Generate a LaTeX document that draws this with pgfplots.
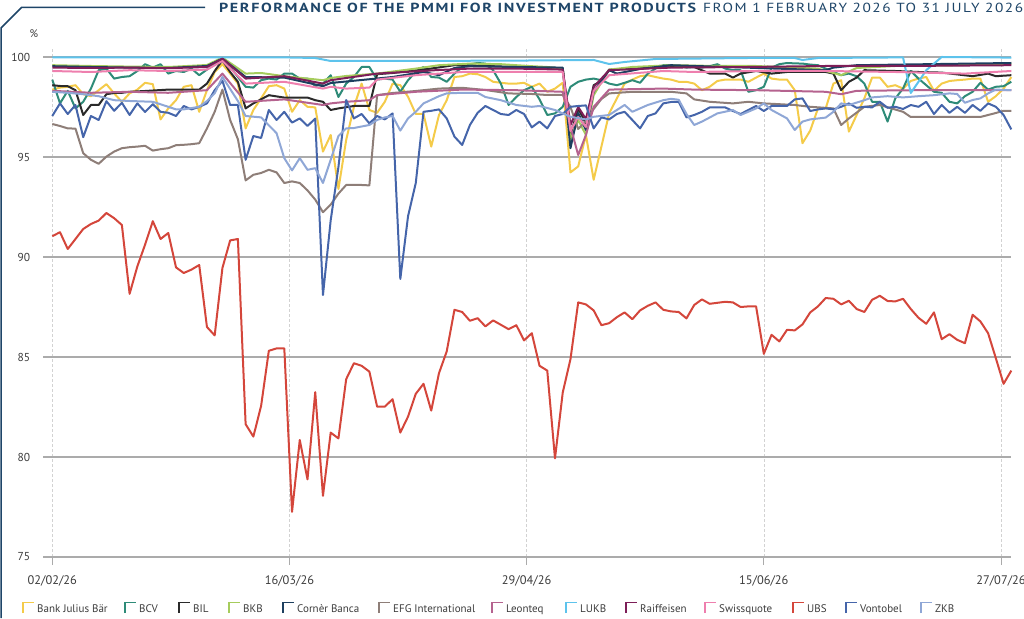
\documentclass[border=0pt]{standalone}
\usepackage{fontspec}
\setmainfont{PT Sans}
\usepackage{pgfplots}
\pgfplotsset{compat=1.18}
\definecolor{cJB}{HTML}{F4CB4A}
\definecolor{cBCV}{HTML}{2E8B78}
\definecolor{cBIL}{HTML}{2A2A2A}
\definecolor{cBKB}{HTML}{A6CC5C}
\definecolor{cCB}{HTML}{1D3F5F}
\definecolor{cEFG}{HTML}{8E7E78}
\definecolor{cLEO}{HTML}{B5638F}
\definecolor{cLUKB}{HTML}{5DC3EC}
\definecolor{cRAI}{HTML}{7D1E58}
\definecolor{cSQ}{HTML}{EE7FAE}
\definecolor{cUBS}{HTML}{D4463B}
\definecolor{cVON}{HTML}{4565AA}
\definecolor{cZKB}{HTML}{8FA7D6}
\definecolor{navy}{HTML}{1E4568}
\definecolor{txt}{HTML}{3C3C3C}
\definecolor{grid}{HTML}{ABABAB}
\begin{document}
\begin{tikzpicture}[x=1pt,y=1pt]
\path[use as bounding box] (0pt,0pt) rectangle (1024pt,618pt);
\draw[navy, line width=1.5pt] (205pt,610.7pt) -- (21.7pt,610.7pt) -- (1pt,590pt) -- (1pt,0pt);
\node[anchor=base west, inner sep=0pt, text=navy] at (219pt,605.3pt) {\resizebox{477pt}{9.4pt}{\bfseries\addfontfeatures{LetterSpace=10}PERFORMANCE OF THE PMMI FOR INVESTMENT PRODUCTS}};
\node[anchor=base west, inner sep=0pt, text=navy] at (703pt,605.3pt) {\resizebox{320pt}{9.4pt}{\addfontfeatures{LetterSpace=10}FROM 1 FEBRUARY 2026 TO 31 JULY 2026}};
\node[text=txt, inner sep=0pt, font=\fontsize{11}{12}\selectfont] at (34pt,584.5pt) {\%};
\begin{axis}[
  at={(43.3pt,61pt)}, anchor=south west,
  scale only axis, width=968pt, height=509pt,
  xmin=-1.16, xmax=124, ymin=75, ymax=100.45,
  clip=false,
  axis line style={draw=none},
  ytick={75,80,85,90,95,100},
  ymajorgrids, y grid style={grid, line width=1.1pt},
  xtick={0,30.667,61.333,92,122.667},
  xticklabels={02/02/26,16/03/26,29/04/26,15/06/26,27/07/26},
  xmajorgrids, x grid style={densely dashed, gray!35, line width=0.6pt},
  xtick pos=bottom, ytick pos=left,
  tick align=outside, major tick length=8pt,
  xtick style={grid, line width=1pt},
  ytick style={draw=none},
  /pgf/number format/assume math mode=true,
  yticklabel style={font=\fontsize{11.5}{12}\selectfont, text=txt, anchor=east, inner sep=0pt, xshift=-5pt},
  xticklabel style={font=\fontsize{12.4}{13}\selectfont, text=txt, anchor=north, inner sep=0pt, yshift=-10pt},
  every axis plot/.append style={line width=2pt, line join=round, mark=none},
]
\addplot[cJB] coordinates {(0,98.37)(1,98.47)(2,98.51)(3,98.59)(4,98.14)(5,98.04)(6,98.34)(7,98.64)(8,98.18)(9,97.76)(10,98.18)(11,98.37)(12,98.71)(13,98.64)(14,96.88)(15,97.43)(16,97.84)(17,98.51)(18,98.59)(19,97.26)(20,98.34)(21,99.25)(22,99.64)(23,99.17)(24,98.67)(25,96.43)(26,97.35)(27,97.93)(28,98.54)(29,98.59)(30,98.42)(31,97.26)(32,97.84)(33,97.51)(34,97.48)(35,95.27)(36,96.1)(37,93.4)(38,95.85)(39,97.5)(40,98.67)(41,97.35)(42,97.21)(43,97.76)(44,98.67)(45,98.59)(46,98.01)(47,97.15)(48,97.15)(49,95.52)(50,97.1)(51,97.84)(52,99.0)(53,99.04)(54,99.17)(55,99.14)(56,99.0)(57,98.76)(58,98.71)(59,98.67)(60,98.67)(61,98.71)(62,98.51)(63,98.67)(64,98.26)(65,98.42)(66,98.71)(67,94.23)(68,94.53)(69,96.1)(70,93.86)(71,95.52)(72,97.18)(73,97.93)(74,98.67)(75,98.87)(76,99.04)(77,99.09)(78,99.0)(79,98.92)(80,98.87)(81,98.76)(82,98.76)(83,98.67)(84,98.34)(85,98.51)(86,98.8)(87,98.87)(88,98.87)(89,98.87)(90,98.76)(91,98.97)(92,99.17)(93,98.92)(94,98.87)(95,98.87)(96,98.34)(97,95.69)(98,96.32)(99,97.43)(100,97.43)(101,98.67)(102,98.84)(103,96.27)(104,97.1)(105,97.93)(106,98.97)(107,98.97)(108,98.51)(109,98.59)(110,98.42)(111,98.8)(112,98.92)(113,99.0)(114,98.31)(115,98.67)(116,98.8)(117,98.84)(118,98.87)(119,98.92)(120,98.92)(121,97.76)(122,98.04)(123,98.42)(124,99.0)};
\addplot[cBCV] coordinates {(0,98.87)(1,97.68)(2,98.31)(3,97.43)(4,97.76)(5,98.42)(6,99.34)(7,99.42)(8,98.92)(9,99.0)(10,99.04)(11,99.3)(12,99.64)(13,99.47)(14,99.64)(15,99.17)(16,99.3)(17,99.25)(18,99.42)(19,99.09)(20,99.37)(21,99.64)(22,99.87)(23,99.5)(24,99.0)(25,98.51)(26,98.47)(27,98.84)(28,98.92)(29,98.87)(30,99.17)(31,99.17)(32,98.92)(33,98.92)(34,98.54)(35,98.67)(36,99.09)(37,98.0)(38,98.67)(39,99.0)(40,99.5)(41,99.5)(42,98.87)(43,98.92)(44,98.87)(45,98.26)(46,98.84)(47,99.25)(48,99.5)(49,99.0)(50,98.97)(51,98.76)(52,99.17)(53,99.5)(54,99.64)(55,99.7)(56,99.67)(57,99.34)(58,98.67)(59,97.6)(60,98.0)(61,98.34)(62,98.51)(63,97.88)(64,97.1)(65,97.18)(66,97.51)(67,98.51)(68,98.76)(69,98.87)(70,98.92)(71,98.84)(72,98.67)(73,98.59)(74,98.71)(75,98.84)(76,98.71)(77,99.17)(78,99.42)(79,99.59)(80,99.59)(81,99.55)(82,99.47)(83,99.5)(84,99.47)(85,99.54)(86,99.64)(87,99.42)(88,99.34)(89,99.34)(90,98.26)(91,98.34)(92,98.51)(93,99.47)(94,99.64)(95,99.7)(96,99.68)(97,99.67)(98,99.62)(99,99.59)(100,99.42)(101,99.25)(102,99.09)(103,99.17)(104,99.04)(105,98.67)(106,97.76)(107,97.76)(108,96.77)(109,97.93)(110,98.42)(111,99.3)(112,98.92)(113,98.59)(114,98.26)(115,98.21)(116,97.76)(117,97.68)(118,98.04)(119,98.26)(120,98.71)(121,98.37)(122,98.51)(123,98.54)(124,98.76)};
\addplot[cBIL] coordinates {(0,98.59)(1,98.55)(2,98.54)(3,98.34)(4,97.1)(5,97.6)(6,97.6)(7,98.14)(8,98.2)(9,98.21)(10,98.26)(12,98.3)(15,98.37)(19,98.37)(20,98.67)(21,99.3)(22,99.84)(23,99.25)(24,98.76)(25,97.43)(26,97.68)(28,98.09)(30,97.97)(33,97.97)(34,97.84)(35,97.76)(36,97.35)(37,97.43)(39,97.55)(41,97.55)(42,99.14)(44,99.2)(48,99.37)(52,99.59)(57,99.54)(62,99.47)(66,99.42)(67,96.1)(68,97.43)(69,96.68)(70,98.59)(71,98.8)(72,99.37)(75,99.42)(80,99.5)(83,99.5)(85,99.17)(87,99.17)(88,98.97)(89,99.17)(91,99.3)(93,99.17)(95,99.25)(100,99.25)(101,99.17)(102,98.34)(103,98.76)(104,98.97)(105,99.34)(109,99.3)(112,99.25)(115,99.22)(119,99.04)(121,99.17)(122,99.04)(124,99.09)};
\addplot[cBKB] coordinates {(0,99.59)(5,99.55)(10,99.52)(15,99.5)(20,99.6)(22,99.97)(25,99.17)(27,99.2)(30,99.04)(35,98.84)(36,98.95)(38,99.05)(42,99.17)(47,99.42)(50,99.59)(54,99.67)(58,99.64)(62,99.54)(64,99.5)(66,99.42)(67,95.85)(68,96.85)(69,96.1)(70,98.09)(72,99.37)(75,99.5)(80,99.59)(86,99.55)(91,99.55)(99,99.42)(101,99.2)(102,99.09)(104,99.45)(109,99.55)(117,99.59)(124,99.67)};
\addplot[cCB] coordinates {(0,99.54)(5,99.5)(10,99.47)(15,99.45)(20,99.55)(22,99.92)(25,99.0)(30,98.97)(35,98.54)(36,98.7)(40,98.85)(44,99.0)(48,99.25)(50,99.09)(52,99.45)(54,99.54)(60,99.5)(66,99.47)(67,95.44)(68,97.2)(69,96.35)(70,98.26)(72,99.34)(73,99.17)(76,99.4)(80,99.59)(100,99.34)(101,99.47)(104,99.59)(124,99.7)};
\addplot[cEFG] coordinates {(0,96.65)(1,96.55)(2,96.43)(3,96.42)(4,95.19)(5,94.86)(6,94.66)(7,95.02)(8,95.27)(9,95.44)(10,95.49)(11,95.52)(12,95.56)(13,95.32)(14,95.39)(15,95.44)(16,95.59)(17,95.61)(18,95.64)(19,95.69)(20,96.43)(21,97.26)(22,98.37)(23,96.85)(24,95.89)(25,93.83)(26,94.11)(27,94.2)(28,94.36)(29,94.23)(30,93.7)(31,93.78)(32,93.7)(33,93.33)(34,92.87)(35,92.24)(36,92.62)(37,93.17)(38,93.6)(39,93.6)(40,93.6)(41,93.58)(42,98.09)(44,98.2)(47,98.3)(50,98.42)(53,98.46)(56,98.35)(59,98.18)(62,98.15)(64,98.1)(66,98.1)(67,97.5)(68,96.4)(69,96.8)(70,97.4)(71,97.9)(72,98.18)(75,98.26)(80,98.26)(82,98.18)(83,97.88)(85,97.76)(88,97.68)(90,97.76)(92,97.68)(96,97.6)(98,97.51)(101,97.43)(102,96.6)(103,96.93)(105,97.51)(107,97.6)(110,97.26)(111,97.0)(115,97.0)(120,97.0)(122,97.2)(123,97.31)(124,97.31)};
\addplot[cLEO] coordinates {(0,98.31)(5,98.21)(10,98.26)(15,98.21)(20,98.34)(22,99.17)(25,97.76)(30,97.88)(35,97.6)(36,97.68)(38,97.76)(41,97.84)(42,98.09)(47,98.26)(53,98.37)(60,98.34)(66,98.26)(67,96.52)(68,95.1)(69,96.1)(70,97.51)(72,98.37)(79,98.42)(83,98.37)(91,98.34)(100,98.26)(102,98.14)(104,98.31)(112,98.34)(124,98.34)};
\addplot[cLUKB] coordinates {(0,99.98)(30,99.98)(34,99.95)(36,99.8)(45,99.8)(60,99.82)(70,99.85)(72,99.65)(74,99.75)(78,99.9)(90,99.95)(96,99.95)(97,99.85)(99,99.95)(110,99.98)(111,98.2)(112,98.76)(113,99.34)(115,100)(124,99.97)};
\addplot[cRAI] coordinates {(0,99.47)(5,99.45)(10,99.47)(15,99.44)(20,99.5)(22,99.92)(25,98.92)(30,99.04)(35,98.67)(36,98.84)(42,99.17)(50,99.35)(54,99.42)(60,99.42)(66,99.37)(67,96.6)(68,97.5)(69,96.9)(70,98.5)(72,99.34)(80,99.47)(90,99.5)(100,99.55)(110,99.55)(124,99.59)};
\addplot[cSQ] coordinates {(0,99.3)(5,99.25)(10,99.34)(15,99.3)(20,99.37)(22,99.8)(25,98.67)(30,98.76)(35,98.42)(36,98.51)(38,98.42)(41,98.47)(42,98.87)(47,99.09)(53,99.25)(60,99.25)(66,99.25)(67,96.3)(68,97.0)(69,96.5)(70,98.3)(72,99.09)(79,99.3)(83,99.25)(91,99.3)(100,99.3)(109,99.25)(118,99.17)(124,99.3)};
\addplot[cUBS] coordinates {(0,91.04)(1,91.24)(2,90.4)(3,90.9)(4,91.4)(5,91.65)(6,91.82)(7,92.2)(8,91.94)(9,91.6)(10,88.16)(11,89.53)(12,90.62)(13,91.79)(14,90.9)(15,91.2)(16,89.48)(17,89.2)(18,89.37)(19,89.6)(20,86.5)(21,86.08)(22,89.45)(23,90.83)(24,90.9)(25,81.64)(26,81.02)(27,82.55)(28,85.31)(29,85.43)(30,85.43)(31,77.26)(32,80.85)(33,78.88)(34,83.24)(35,78.06)(36,81.22)(37,80.93)(38,83.89)(39,84.69)(40,84.56)(41,84.27)(42,82.52)(43,82.52)(44,82.89)(45,81.22)(46,82.02)(47,83.16)(48,83.66)(49,82.32)(50,84.19)(51,85.28)(52,87.36)(53,87.25)(54,86.81)(55,86.94)(56,86.53)(57,86.83)(58,86.61)(59,86.39)(60,86.59)(61,85.83)(62,86.19)(63,84.56)(64,84.32)(65,79.93)(66,83.22)(67,84.89)(68,87.73)(69,87.63)(70,87.33)(71,86.59)(72,86.69)(73,86.99)(74,87.23)(75,86.89)(76,87.33)(77,87.56)(78,87.73)(79,87.36)(80,87.28)(81,87.25)(82,86.93)(83,87.6)(84,87.88)(85,87.66)(86,87.71)(87,87.76)(88,87.73)(89,87.5)(90,87.53)(91,87.53)(92,85.16)(93,86.11)(94,85.78)(95,86.36)(96,86.33)(97,86.63)(98,87.23)(99,87.53)(100,87.95)(101,87.91)(102,87.63)(103,87.81)(104,87.4)(105,87.25)(106,87.86)(107,88.06)(108,87.8)(109,87.78)(110,87.91)(111,87.4)(112,86.96)(113,86.66)(114,87.23)(115,85.89)(116,86.14)(117,85.86)(118,85.69)(119,87.11)(120,86.78)(121,86.19)(122,84.94)(123,83.66)(124,84.32)};
\addplot[cVON] coordinates {(0,97.05)(1,97.68)(2,97.15)(3,97.6)(4,95.99)(5,97.05)(6,96.85)(7,97.79)(8,97.31)(9,97.71)(10,97.1)(11,97.68)(12,97.25)(13,97.64)(14,97.26)(15,97.21)(16,97.05)(17,97.55)(18,97.38)(19,97.51)(20,97.68)(21,98.34)(22,98.81)(23,97.6)(24,97.6)(25,94.86)(26,96.05)(27,95.95)(28,97.35)(29,96.85)(30,97.26)(31,96.72)(32,96.93)(33,96.55)(34,96.92)(35,88.1)(36,91.84)(37,94.5)(38,97.85)(39,96.93)(40,97.15)(41,96.68)(42,97.05)(43,96.88)(44,97.18)(45,88.9)(46,92.04)(47,93.7)(48,97.26)(49,97.31)(50,97.38)(51,96.93)(52,96.02)(53,95.6)(54,96.6)(55,97.21)(56,97.55)(57,97.35)(58,97.15)(59,97.1)(60,97.35)(61,97.15)(62,96.48)(63,96.77)(64,96.43)(65,97.05)(66,97.15)(67,97.51)(68,97.55)(69,97.58)(70,96.43)(71,96.98)(72,96.88)(73,97.15)(74,97.26)(75,96.85)(76,96.43)(77,97.05)(78,97.18)(79,97.68)(80,97.75)(81,97.75)(82,96.98)(83,97.1)(84,97.26)(85,97.48)(86,97.48)(87,97.48)(88,97.3)(89,97.15)(90,97.35)(91,97.55)(92,97.3)(93,97.55)(94,97.55)(95,97.55)(96,97.88)(97,97.93)(98,97.3)(99,97.38)(100,97.43)(101,97.38)(102,97.51)(103,97.68)(104,97.46)(105,97.51)(106,97.48)(107,97.76)(108,97.46)(109,97.51)(110,97.4)(111,97.6)(112,97.51)(113,97.76)(114,97.15)(115,97.6)(116,97.21)(117,97.51)(118,97.21)(119,97.6)(120,97.31)(121,97.68)(122,97.51)(123,97.1)(124,96.38)};
\addplot[cZKB] coordinates {(0,98.26)(2,98.21)(4,98.14)(6,98.04)(8,97.84)(10,97.8)(13,97.76)(15,97.51)(16,97.38)(17,97.38)(19,97.51)(20,97.8)(21,98.18)(22,99.0)(23,98.4)(24,97.8)(25,97.05)(27,96.98)(29,96.19)(30,94.94)(31,94.33)(32,94.94)(33,94.36)(34,94.44)(35,93.7)(36,94.86)(37,96.05)(38,96.43)(39,96.45)(41,96.6)(42,96.85)(43,96.98)(44,97.05)(45,96.32)(46,96.93)(47,97.26)(48,97.68)(50,98.04)(51,98.18)(53,98.21)(55,98.21)(56,98.0)(58,97.84)(60,97.6)(62,97.51)(63,97.55)(65,97.35)(67,97.01)(69,96.88)(70,97.01)(72,97.1)(73,97.35)(74,97.6)(75,97.26)(76,97.43)(77,97.6)(79,97.84)(80,97.91)(81,97.86)(82,97.15)(83,96.6)(84,96.77)(86,97.18)(88,97.35)(89,97.1)(91,97.43)(92,97.68)(93,97.35)(95,96.93)(96,96.35)(97,96.77)(98,96.88)(100,96.97)(101,97.26)(102,97.68)(103,97.6)(105,97.84)(106,97.98)(108,98.04)(110,97.98)(112,98.04)(114,98.09)(116,98.18)(117,98.15)(118,97.71)(119,97.85)(120,97.93)(121,98.18)(122,98.37)(124,98.34)};
\end{axis}
\foreach \xx/\cc/\nn in {22/cJB/Bank Julius Bär,124/cBCV/BCV,178/cBIL/BIL,228/cBKB/BKB,282/cCB/Cornèr Banca,378/cEFG/EFG International,491/cLEO/Leonteq,565/cLUKB/LUKB,625/cRAI/Raiffeisen,704/cSQ/Swissquote,792/cUBS/UBS,845/cVON/Vontobel,920/cZKB/ZKB}{
  \draw[\cc, line width=1.7pt] (\xx pt+0.8pt,5pt) -- (\xx pt+0.8pt,15.5pt) -- (\xx pt+11.5pt,15.5pt);
  \node[anchor=base west, inner sep=0pt, text=txt, font=\fontsize{11}{12}\selectfont] at (\xx pt+15pt,5.3pt) {\nn};
}
\end{tikzpicture}
\end{document}
